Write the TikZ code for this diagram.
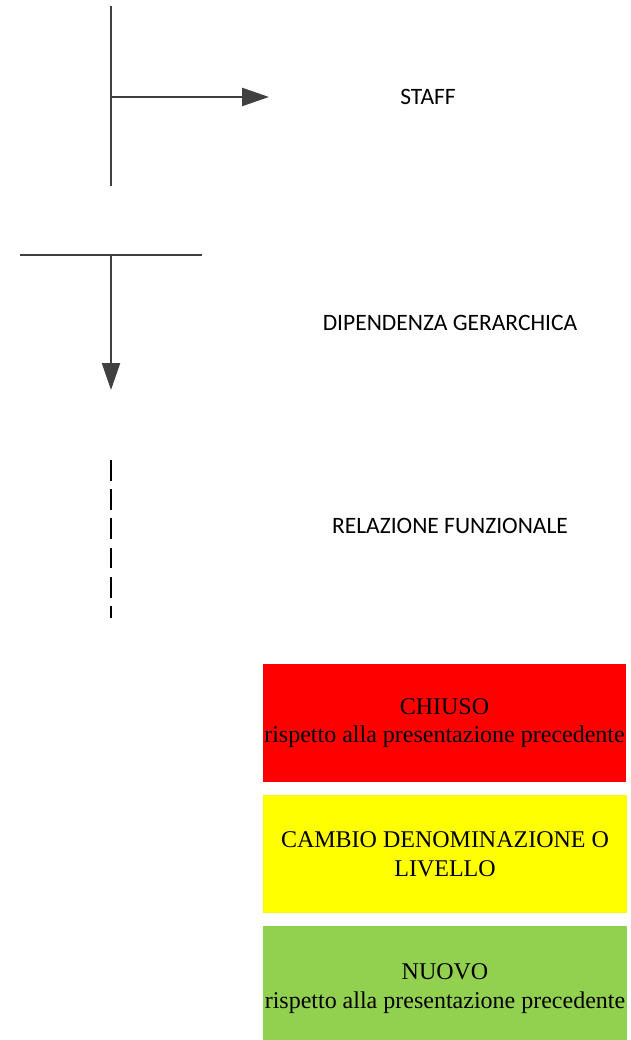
\documentclass[tikz,border=0pt]{standalone}
\usepackage{fontspec}
\setmainfont{Liberation Serif}
\newfontfamily\calib{Carlito}
\usetikzlibrary{arrows.meta}
\definecolor{linegray}{HTML}{404040}
\definecolor{boxred}{HTML}{FF0000}
\definecolor{boxyellow}{HTML}{FFFF00}
\definecolor{boxgreen}{HTML}{92D050}
\tikzset{
  graylink/.style={draw=linegray, line width=2.3pt},
  bigtip/.style={-{Triangle[length=27pt,width=18pt]}, color=linegray},
  legendtext/.style={inner sep=0pt, font=\calib\fontsize{23.5}{28}\selectfont},
  legendbox/.style={rectangle, draw=none, inner sep=0pt, align=center,
    font=\fontsize{24}{28.5}\selectfont, text=black},
}
\begin{document}
\begin{tikzpicture}[x=1pt,y=-1pt]
\useasboundingbox (0,0) rectangle (630,1040);
% STAFF symbol
\coordinate (st) at (111,6);
\coordinate (sb) at (111,186);
\coordinate (sm) at (111,97);
\coordinate (se) at (269,97);
\draw[graylink] (st) -- (sb);
\draw[graylink, bigtip] (sm) -- (se);
\node[legendtext] (staff) at (428,97) {STAFF};
% DIPENDENZA GERARCHICA symbol
\coordinate (dl) at (20,255);
\coordinate (dr) at (202,255);
\coordinate (dm) at (111,255);
\coordinate (de) at (111,390);
\draw[graylink] (dl) -- (dr);
\draw[graylink, bigtip] (dm) -- (de);
\node[legendtext] (dip) at (450,323) {DIPENDENZA GERARCHICA};
% RELAZIONE FUNZIONALE symbol
\coordinate (rt) at (111,460);
\coordinate (rb) at (111,618);
\draw[black, line width=2pt, dash pattern=on 20.7pt off 8.5pt] (rt) -- (rb);
\node[legendtext] (rel) at (450,526) {RELAZIONE FUNZIONALE};
% Boxes
\node[legendbox, fill=boxred, minimum width=363pt, minimum height=118pt] (chiuso) at (444.5,723)
  {CHIUSO\\rispetto alla presentazione precedente};
\node[legendbox, fill=boxyellow, minimum width=364pt, minimum height=118pt] (cambio) at (445,854)
  {CAMBIO DENOMINAZIONE O\\LIVELLO};
\node[legendbox, fill=boxgreen, minimum width=364pt, minimum height=114pt] (nuovo) at (445,983)
  {\rule{0pt}{27pt}NUOVO\\rispetto alla presentazione precedente};
\end{tikzpicture}
\end{document}
